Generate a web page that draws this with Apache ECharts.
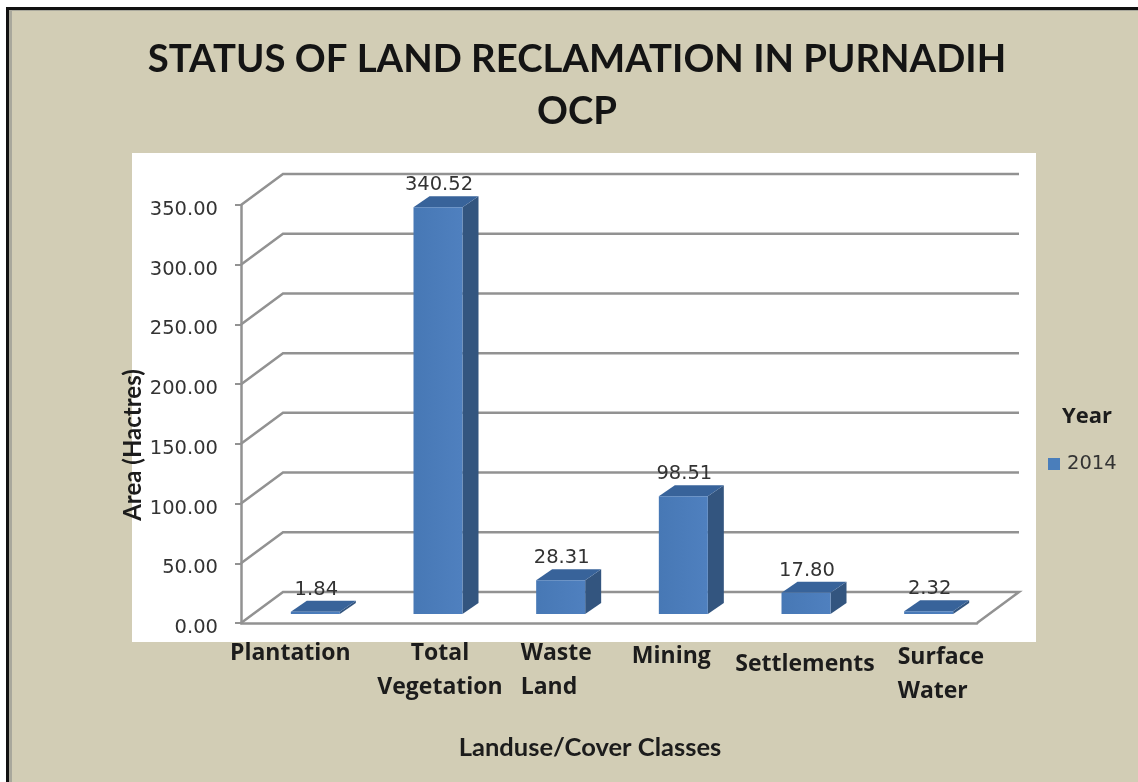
<!DOCTYPE html>
<html>
<head>
<meta charset="utf-8">
<style>html,body{margin:0;padding:0;background:#fff}#c{width:1138px;height:782px}</style>
<script src="https://cdn.jsdelivr.net/npm/echarts@6/dist/echarts.min.js"></script>
</head>
<body>
<div id="c"></div>
<script>
const categories = ['Plantation', 'Total\nVegetation', 'Waste\nLand', 'Mining', 'Settlements', 'Surface\nWater'];
const seriesName = '2014';
const areaValues = [1.84, 340.52, 28.31, 98.51, 17.80, 2.32];
const yTicks = [0, 50, 100, 150, 200, 250, 300, 350];
const titleText = 'STATUS OF LAND RECLAMATION IN PURNADIH\nOCP';
const xAxisName = 'Landuse/Cover Classes';
const yAxisName = 'Area (Hactres)';
const legendTitle = 'Year';

// presentation only
const labelShiftX = [-12, 15, -27, 1, 12, -18];
const labelShiftY = [13, 13, 13, 16, 24, 17];
const labelAlign = ['center', 'center', 'left', 'center', 'center', 'left'];
const WALL_DX = 42, WALL_DY = 31;
const BAR_DX = 16, BAR_DY = 11, BAR_W = 49, BAR_SHIFT_X = 13, BAR_SHIFT_Y = 9;
const NUM_FONT = '19.5px "DejaVu Sans"';
const CAT_FONT = 'bold 23px "Open Sans"';
const GRID_C = '#929292';

const chart = echarts.init(document.getElementById('c'), null, {renderer: 'canvas'});

function renderWall(params, api) {
  const v = api.value(1);
  const p = api.coord([0, v]);
  const cs = params.coordSys;
  const x0 = cs.x, xr = cs.x + cs.width, y = p[1];
  const pts = [[x0, y], [x0 + WALL_DX, y - WALL_DY], [xr + WALL_DX, y - WALL_DY]];
  if (v === 0) pts.push([xr, y]);
  return {type: 'polyline', shape: {points: pts}, style: {stroke: GRID_C, lineWidth: 2.5, fill: null}};
}

function renderBar(params, api) {
  const i = api.value(0), v = api.value(1);
  const base = api.coord([i, 0]);
  const h = api.size([0, v])[1];
  const l = base[0] + BAR_SHIFT_X - BAR_W / 2, r = l + BAR_W;
  const b = base[1] - BAR_SHIFT_Y, t = b - h;
  return {
    type: 'group',
    children: [
      {type: 'polygon', shape: {points: [[r, t], [r + BAR_DX, t - BAR_DY], [r + BAR_DX, b - BAR_DY], [r, b]]},
        style: {fill: '#33557F'}},
      {type: 'polygon', shape: {points: [[l, t], [l + BAR_DX, t - BAR_DY], [r + BAR_DX, t - BAR_DY], [r, t]]},
        style: {fill: '#38639A'}},
      {type: 'rect', shape: {x: l, y: t, width: BAR_W, height: h},
        style: {fill: {type: 'linear', x: 0, y: 0, x2: 1, y2: 0,
          colorStops: [{offset: 0, color: '#4778B5'}, {offset: 1, color: '#4F80BF'}]}}},
      {type: 'text', style: {text: v.toFixed(2), x: (l + r) / 2 + 1, y: t - 22, font: NUM_FONT,
        fill: '#333', align: 'center', verticalAlign: 'middle'}}
    ]
  };
}

function renderCategoryLabel(params, api) {
  const i = api.value(0);
  const base = api.coord([i, 0]);
  return {type: 'text', style: {
    text: categories[i], x: base[0] + labelShiftX[i], y: base[1] + labelShiftY[i],
    font: CAT_FONT, lineHeight: 34, fill: '#1c1c1c', align: labelAlign[i], verticalAlign: 'top'}};
}

chart.setOption({
  animation: false,
  backgroundColor: '#fff',
  title: {
    text: titleText, left: 572, top: 29, textAlign: 'center',
    textStyle: {fontFamily: 'Lato', fontWeight: 'bold', fontSize: 38.3, lineHeight: 52, color: '#141414'}
  },
  legend: {
    data: [seriesName], left: 1043, top: 449, icon: 'rect', itemWidth: 12, itemHeight: 12, itemGap: 0,
    textStyle: {fontFamily: 'DejaVu Sans', fontSize: 19.5, color: '#333', padding: [0, 0, 0, 2]}
  },
  grid: {left: 241, top: 205, width: 736, height: 418},
  xAxis: {
    type: 'category', data: categories, boundaryGap: true,
    name: xAxisName, nameLocation: 'middle', nameGap: 112,
    nameTextStyle: {fontFamily: 'Lato', fontWeight: 'bold', fontSize: 25.5, color: '#1c1c1c', padding: [0, 38, 0, 0]},
    axisLine: {lineStyle: {color: GRID_C, width: 2.5}},
    axisTick: {show: false},
    axisLabel: {show: false}
  },
  yAxis: {
    type: 'value', min: 0, max: 350, interval: 50,
    name: yAxisName, nameLocation: 'middle', nameGap: 96, nameMoveOverlap: false,
    nameTextStyle: {fontFamily: 'Lato', fontWeight: 'bold', fontSize: 24, color: '#1c1c1c', padding: [0, 62, 0, 0]},
    axisLine: {show: true, lineStyle: {color: GRID_C, width: 2.5}},
    axisTick: {show: true, length: 6, lineStyle: {color: GRID_C, width: 2}},
    axisLabel: {margin: 23, verticalAlign: 'top', lineHeight: 10, fontFamily: 'DejaVu Sans', fontSize: 19.5, color: '#333',
      formatter: v => v.toFixed(2)},
    splitLine: {show: false}
  },
  series: [
    {type: 'custom', name: 'walls', renderItem: renderWall, clip: false, silent: true, z: 1,
      encode: {x: 0, y: 1}, data: yTicks.map(v => [0, v])},
    {type: 'custom', name: seriesName, renderItem: renderBar, clip: false, z: 3,
      itemStyle: {color: '#4A7EBB'},
      encode: {x: 0, y: 1}, data: areaValues.map((v, i) => [i, v])},
    {type: 'custom', name: 'labels', renderItem: renderCategoryLabel, clip: false, silent: true, z: 3,
      encode: {x: 0, y: 1}, data: categories.map((c, i) => [i, 0])}
  ],
  graphic: [
    {type: 'rect', z: -10, silent: true, shape: {x: 6, y: 7, width: 1132, height: 775}, style: {fill: '#111'}},
    {type: 'rect', z: -9, silent: true, shape: {x: 9, y: 10, width: 1129, height: 772}, style: {fill: '#A9A89C'}},
    {type: 'rect', z: -8, silent: true, shape: {x: 12, y: 11, width: 1126, height: 771}, style: {fill: '#D2CDB5'}},
    {type: 'rect', z: -7, silent: true, shape: {x: 132, y: 153, width: 904, height: 489}, style: {fill: '#fff'}},
    {type: 'text', z: 5, silent: true, style: {text: legendTitle, x: 1087, y: 417, font: 'bold 22px "Open Sans"',
      fill: '#1c1c1c', align: 'center', verticalAlign: 'middle'}}
  ]
});
</script>
</body>
</html>
